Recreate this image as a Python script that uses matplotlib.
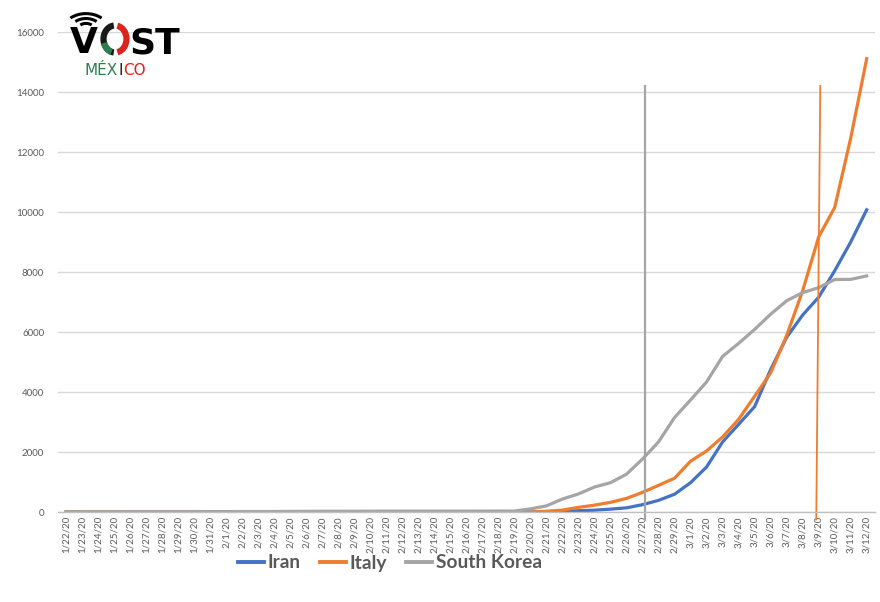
import matplotlib.pyplot as plt
from matplotlib.patches import Arc

# dates 1/22/20 .. 3/12/20
dates = ([f"1/{d}/20" for d in range(22, 32)] +
         [f"2/{d}/20" for d in range(1, 30)] +
         [f"3/{d}/20" for d in range(1, 13)])

iran = [0] * 28 + [2, 5, 18, 28, 43, 61, 95, 139, 245, 388, 593, 978, 1501,
                   2336, 2922, 3513, 4747, 5823, 6566, 7161, 8042, 9000, 10075]
italy = [0] * 9 + [2] * 7 + [3] * 14 + [20, 62, 155, 229, 322, 453, 655, 888,
                                         1128, 1694, 2036, 2502, 3089, 3858, 4636,
                                         5883, 7375, 9172, 10149, 12462, 15113]
south_korea = [1, 1, 2, 2, 3, 4, 4, 4, 4, 11, 12, 15, 15, 16, 19, 23, 24, 24, 25,
               27, 28, 28, 28, 28, 28, 29, 30, 31, 31, 104, 204, 433, 602, 833,
               977, 1261, 1766, 2337, 3150, 3736, 4335, 5186, 5621, 6088, 6593,
               7041, 7314, 7478, 7750, 7755, 7869]

series = ["Iran", "Italy", "South Korea"]
colors = ["#4472C4", "#ED7D31", "#A5A5A5"]

# marker lines
marker_dates = ["2/27/20", "3/9/20"]
marker_top = 14200

plt.rcParams['font.family'] = ['Lato', 'DejaVu Sans']

fig = plt.figure(figsize=(8.8, 6.02), dpi=100)
ax = fig.add_axes([0.066, 0.1495, 0.928, 0.7973])

x = list(range(len(dates)))
for vals, name, c in zip([iran, italy, south_korea], series, colors):
    ax.plot(x, vals, color=c, lw=2.3, label=name, solid_joinstyle='round')

# vertical marker lines
i_gray = dates.index(marker_dates[0])
ax.plot([i_gray + 0.15, i_gray + 0.15], [-250, marker_top], color="#A5A5A5",
        lw=1.6, clip_on=False)
i_or = dates.index(marker_dates[1])
ax.plot([i_or - 0.15, i_or + 0.1], [-250, marker_top], color="#ED7D31",
        lw=1.3, clip_on=False)

ax.set_xlim(-0.5, len(dates) - 0.5)
ax.set_ylim(0, 16000)
ax.set_yticks(range(0, 16001, 2000))
ax.set_xticks(x)
ax.set_xticklabels(dates, rotation=90, fontsize=7, color="#595959")
ax.tick_params(axis='y', labelsize=7, colors="#595959", length=0, pad=10)
ax.tick_params(axis='x', length=0, pad=3)
ax.grid(axis='y', color="#D9D9D9", lw=1)
ax.set_axisbelow(True)
for s in ['top', 'right', 'left']:
    ax.spines[s].set_visible(False)
ax.spines['bottom'].set_color("#BFBFBF")
ax.spines['bottom'].set_linewidth(1)

leg = fig.legend(loc='center', bbox_to_anchor=(390 / 880, 1 - 563 / 602), ncol=3,
                 frameon=False, handlelength=1.35, handletextpad=0.2,
                 columnspacing=1.0, prop={'size': 13.8, 'weight': 'bold'})
for t in leg.get_texts():
    t.set_color("#595959")
for h in leg.get_lines():
    h.set_linewidth(2.8)

# logo overlay in pixel coords
lg = fig.add_axes([0, 0, 1, 1], facecolor='none')
lg.set_xlim(0, 880)
lg.set_ylim(0, 602)
lg.axis('off')
H = 602
lg.text(70, H - 53, "V", fontsize=26, fontweight='heavy', color='black',
        family='DejaVu Sans', va='baseline', ha='left')
lg.add_patch(Arc((115, H - 39), 23, 27, theta1=95, theta2=265, lw=4.5, color='#1a1a1a'))
lg.add_patch(Arc((115, H - 39), 23, 27, theta1=200, theta2=255, lw=4.5, color='#2e7d4f'))
lg.add_patch(Arc((115, H - 39), 23, 27, theta1=-80, theta2=80, lw=4.5, color='#d7261e'))
lg.text(129, H - 53, "ST", fontsize=26, fontweight='heavy', color='black',
        family='DejaVu Sans', va='baseline', ha='left')
for r in [8, 15, 22]:
    lg.add_patch(Arc((86, H - 29), r * 2, r * 1.4, theta1=35, theta2=145,
                     lw=2.2, color='black'))

# MÉXICO in coloured pieces, laid out one after the other
fig.canvas.draw()
rend = fig.canvas.get_renderer()
px = 85
for part, col in [("MÉX", '#2e7d4f'), ("I", '#1a1a1a'), ("CO", '#d7261e')]:
    t = lg.text(px, H - 75, part, fontsize=11, color=col, family='DejaVu Sans',
                va='baseline', ha='left')
    px += t.get_window_extent(rend).width

fig.savefig("out.png", dpi=100)
